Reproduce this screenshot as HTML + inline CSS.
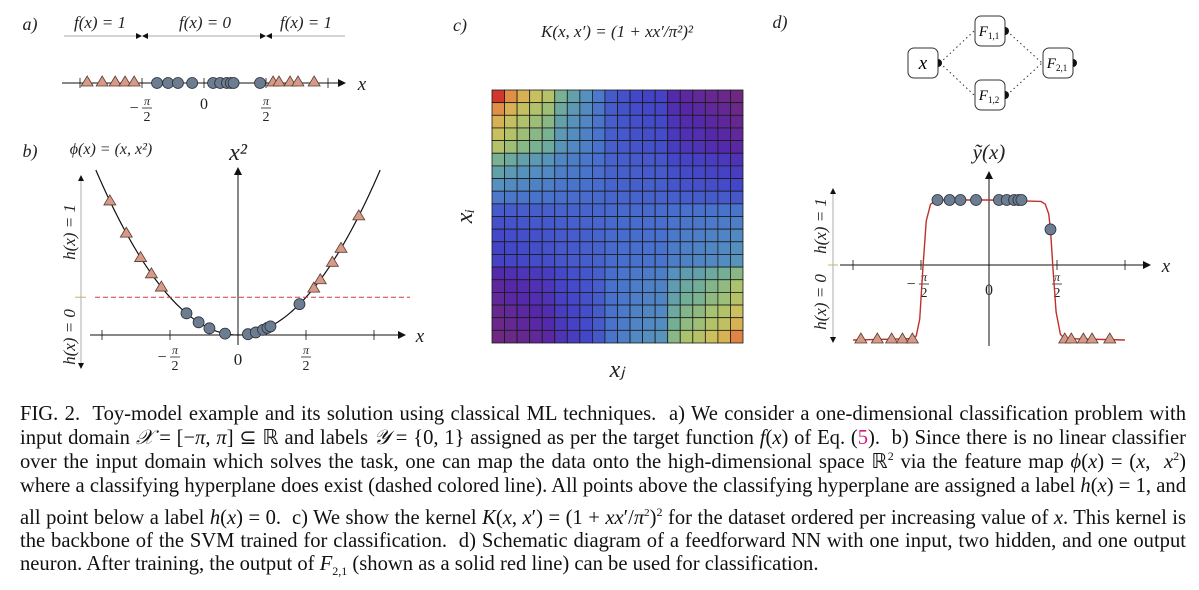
<!DOCTYPE html>
<html><head><meta charset="utf-8">
<style>
html,body{margin:0;padding:0;background:#fff;}
body{width:1199px;height:590px;position:relative;overflow:hidden;font-family:"Liberation Serif",serif;}
svg{position:absolute;left:0;top:0;}
.m{font-family:"Liberation Serif",serif;font-style:italic;}
.cap{position:absolute;left:20px;width:1166px;font-size:20.6px;line-height:24px;color:#111;white-space:nowrap;text-align:justify;text-align-last:justify;}
.cap.last{text-align-last:left;}
.cap i{font-style:italic;}
.pink{color:#d0207a;}
</style></head><body>
<svg id="fig" width="1199" height="390" viewBox="0 0 1199 390">
<defs>
<marker id="arr" markerWidth="8" markerHeight="8" refX="7" refY="4" orient="auto" markerUnits="userSpaceOnUse"><path d="M0,0 L8,4 L0,8 Z" fill="#111"/></marker>
<marker id="arrs" markerWidth="6" markerHeight="6" refX="5" refY="3" orient="auto" markerUnits="userSpaceOnUse"><path d="M0,0 L6,3 L0,6 Z" fill="#111"/></marker>
<marker id="arrsb" markerWidth="6" markerHeight="6" refX="1" refY="3" orient="auto" markerUnits="userSpaceOnUse"><path d="M6,0 L0,3 L6,6 Z" fill="#111"/></marker>
</defs>
<g id="panelA"></g>
<g id="panelB"></g>
<g id="panelC"></g>
<g id="panelD"></g>
</svg>

<div class="cap" style="top:402px">FIG. 2.&nbsp; Toy-model example and its solution using classical ML techniques.&nbsp; a) We consider a one-dimensional classification problem with</div>
<div class="cap" style="top:426px">input domain <i>𝒳</i> = [−<i>π</i>, <i>π</i>] ⊆ ℝ and labels <i>𝒴</i> = {0, 1} assigned as per the target function <i>f</i>(<i>x</i>) of Eq. (<span class="pink">5</span>).&nbsp; b) Since there is no linear classifier</div>
<div class="cap" style="top:450px">over the input domain which solves the task, one can map the data onto the high-dimensional space ℝ<sup style="font-size:12px;line-height:0">2</sup> via the feature map <i>ϕ</i>(<i>x</i>) = (<i>x</i>,&nbsp; <i>x</i><sup style="font-size:12px;line-height:0">2</sup>)</div>
<div class="cap" style="top:474px">where a classifying hyperplane does exist (dashed colored line). All points above the classifying hyperplane are assigned a label <i>h</i>(<i>x</i>) = 1, and</div>
<div class="cap" style="top:506px">all point below a label <i>h</i>(<i>x</i>) = 0.&nbsp; c) We show the kernel <i>K</i>(<i>x</i>, <i>x</i>′) = (1 + <i>xx</i>′/<i>π</i><sup style="font-size:11px;line-height:0">2</sup>)<sup style="font-size:12px;line-height:0">2</sup> for the dataset ordered per increasing value of <i>x</i>. This kernel is</div>
<div class="cap" style="top:529px">the backbone of the SVM trained for classification.&nbsp; d) Schematic diagram of a feedforward NN with one input, two hidden, and one output</div>
<div class="cap last" style="top:552px">neuron. After training, the output of <i>F</i><sub style="font-size:12px;line-height:0">2,1</sub> (shown as a solid red line) can be used for classification.</div>

<script>
// ---- data ----
const triLeft = [-2.96, -2.58, -2.25, -2.0, -1.77];
const circles = [-1.19, -0.91, -0.66, -0.30, 0.23, 0.41, 0.58, 0.68, 0.75, 1.42];
const triRight = [1.75, 1.90, 2.18, 2.38, 2.79];
const dCircleY = [1, 1, 1, 1, 1, 1, 1, 1, 1, 0.79];
const curveX = [-3.14, -1.75, -1.68, -1.6, -1.53, -1.45, -1.35, -1.2, 0, 1.2, 1.3, 1.38, 1.42, 1.48, 1.55, 1.65, 1.75, 3.14];
const curveY = [0.0, 0.01, 0.03, 0.15, 0.5, 0.85, 0.97, 1.0, 1.0, 0.99, 0.97, 0.9, 0.79, 0.5, 0.2, 0.04, 0.01, 0.0];
const thresholdX2 = 2.47;
const tickVals = [-Math.PI, -Math.PI/2, Math.PI/2, Math.PI];

const NS = 'http://www.w3.org/2000/svg';
const HP = Math.PI/2;
function el(parent, tag, attrs, text){
  const e = document.createElementNS(NS, tag);
  for (const k in attrs) e.setAttribute(k, attrs[k]);
  if (text !== undefined) e.textContent = text;
  parent.appendChild(e); return e;
}
const TRI_FILL = '#d69b88', CIR_FILL = '#6c7d92';
function tri(g, x, y, name){
  const e = el(g, 'path', {d:`M${x},${y-6} L${x+6},${y+4} L${x-6},${y+4} Z`, fill:TRI_FILL, stroke:'#5a3a30', 'stroke-width':0.8});
  
  
}
function circ(g, x, y, name){
  const e = el(g, 'circle', {cx:x, cy:y, r:5.5, fill:CIR_FILL, stroke:'#2a2f38', 'stroke-width':0.8});
  
  
}
function txt(g, x, y, s, size, name, extra){
  const a = {x:x, y:y, 'font-size':size, 'text-anchor':'middle', class:'m', fill:'#222'};
  if (extra) for (const k in extra) a[k] = extra[k];
  const e = el(g, 'text', a, s);
  
  
  return e;
}
function frac(g, cx, ytop, neg, name){
  const grp = el(g, 'g', {});
  
  
  el(grp, 'text', {x:cx, y:ytop+9, 'font-size':12, 'text-anchor':'middle', class:'m', fill:'#222'}, 'π');
  el(grp, 'line', {x1:cx-5, y1:ytop+12, x2:cx+5, y2:ytop+12, stroke:'#222', 'stroke-width':0.8});
  el(grp, 'text', {x:cx, y:ytop+25, 'font-size':14, 'text-anchor':'middle', fill:'#222', 'font-family':'Liberation Serif'}, '2');
  if (neg) el(grp, 'text', {x:cx-13, y:ytop+17, 'font-size':16, 'text-anchor':'middle', fill:'#222', 'font-family':'Liberation Serif'}, '−');
}
function line(g, x1, y1, x2, y2, attrs, name){
  const a = {x1:x1, y1:y1, x2:x2, y2:y2, stroke:'#111', 'stroke-width':1};
  if (attrs) for (const k in attrs) a[k] = attrs[k];
  const e = el(g, 'line', a);
  
  
  return e;
}

// ---- Panel A ----
(function(){
  const g = document.getElementById('panelA');
  const xa = v => 204 + v*62/HP, ya = 83;
  txt(g, 30, 30, 'a)', 18, 'panel-label-a');
  txt(g, 100, 28, 'f(x) = 1', 17, 'region-label-left');
  txt(g, 205, 28, 'f(x) = 0', 17, 'region-label-middle');
  txt(g, 306, 28, 'f(x) = 1', 17, 'region-label-right');
  line(g, 64, 36, xa(-HP)-1, 36, {'stroke-width':0.6, stroke:'#555', 'marker-end':'url(#arrs)'}, 'region-arrow-left');
  line(g, xa(-HP)+1, 36, xa(HP)-1, 36, {'stroke-width':0.6, stroke:'#555', 'marker-start':'url(#arrsb)', 'marker-end':'url(#arrs)'}, 'region-arrow-middle');
  line(g, xa(HP)+1, 36, 345, 36, {'stroke-width':0.6, stroke:'#555', 'marker-start':'url(#arrsb)'}, 'region-arrow-right');
  line(g, 62, ya, 345, ya, {'marker-end':'url(#arr)'}, 'x-axis-a');
  txt(g, 362, 90, 'x', 19, 'x-axis-label-a');
  tickVals.concat([0]).forEach(v => line(g, xa(v), ya-5, xa(v), ya+5, {'stroke-width':0.8}, 'tick-a'));
  frac(g, xa(-HP)+5, 96, true, 'tick-label-a-neg-half-pi');
  txt(g, xa(0), 109, '0', 16, 'tick-label-a-zero', {class:'', 'font-family':'Liberation Serif'});
  frac(g, xa(HP), 96, false, 'tick-label-a-half-pi');
  triLeft.concat(triRight).forEach(v => tri(g, xa(v), ya-1, 'point-a-class1'));
  circles.forEach(v => circ(g, xa(v), ya, 'point-a-class0'));
})();

// ---- Panel B ----
(function(){
  const g = document.getElementById('panelB');
  const xb = v => 238 + v*68/HP, yb = s => 335 - s*15.3;
  txt(g, 30, 157, 'b)', 18, 'panel-label-b');
  txt(g, 111, 154, 'ϕ(x) = (x,  x²)', 16, 'feature-map-label');
  txt(g, 238, 160, 'x²', 24, 'y-axis-title-b');
  line(g, 90, 335, 405, 335, {'marker-end':'url(#arr)'}, 'x-axis-b');
  txt(g, 420, 342, 'x', 19, 'x-axis-label-b');
  line(g, 238, 345, 238, 168, {'marker-end':'url(#arr)'}, 'y-axis-b');
  tickVals.forEach(v => line(g, xb(v), 330, xb(v), 340, {'stroke-width':0.8}, 'tick-b'));
  frac(g, xb(-HP)+5, 345, true, 'tick-label-b-neg-half-pi');
  txt(g, 238, 365, '0', 17, 'tick-label-b-zero', {class:'', 'font-family':'Liberation Serif'});
  frac(g, xb(HP), 345, false, 'tick-label-b-half-pi');
  line(g, 81, 176, 81, 368, {stroke:'#888', 'stroke-width':0.7, 'marker-start':'url(#arrsb)', 'marker-end':'url(#arrs)'}, 'h-axis-b');
  line(g, 75, yb(thresholdX2), 86, yb(thresholdX2), {stroke:'#c8b070', 'stroke-width':1}, 'h-axis-threshold-b');
  txt(g, 0, 0, 'h(x) = 1', 17, 'h1-label-b', {transform:'translate(75,232) rotate(-90)'});
  txt(g, 0, 0, 'h(x) = 0', 17, 'h0-label-b', {transform:'translate(75,337) rotate(-90)'});
  let d = '';
  const vmax = Math.sqrt((335-170)/15.3);
  for (let i=0;i<=120;i++){ const v = -vmax + 2*vmax*i/120; d += (i?'L':'M') + xb(v).toFixed(2)+','+yb(v*v).toFixed(2); }
  const p = el(g, 'path', {d:d, fill:'none', stroke:'#111', 'stroke-width':1.2});
  
  
  line(g, 95, yb(thresholdX2), 410, yb(thresholdX2), {stroke:'#d03a3a', 'stroke-width':1, 'stroke-dasharray':'5,3'}, 'classifying-hyperplane');
  triLeft.concat(triRight).forEach(v => tri(g, xb(v), yb(v*v), 'point-b-class1'));
  circles.forEach(v => circ(g, xb(v), yb(v*v), 'point-b-class0'));
})();

// ---- Panel C ----
(function(){
  const g = document.getElementById('panelC');
  txt(g, 460, 31, 'c)', 18, 'panel-label-c');
  txt(g, 617, 37, 'K(x, x′) = (1 + xx′/π²)²', 17, 'kernel-formula');
  txt(g, 0, 0, 'xᵢ', 24, 'y-axis-title-c', {transform:'translate(472,216) rotate(-90)'});
  txt(g, 617, 377, 'xⱼ', 24, 'x-axis-title-c');
  const xs = triLeft.concat(circles, triRight).slice().sort((a,b)=>a-b);
  const n = xs.length;
  const K = xs.map(a => xs.map(b => Math.pow(1 + a*b/(Math.PI*Math.PI), 2)));
  let mn = Infinity, mx = -Infinity;
  K.forEach(r => r.forEach(v => { mn = Math.min(mn, v); mx = Math.max(mx, v); }));
  const stops = [[0,[110,40,130]],[0.08,[85,40,170]],[0.18,[68,70,200]],[0.3,[72,112,205]],[0.4,[85,145,190]],[0.5,[115,175,150]],[0.62,[170,195,110]],[0.75,[210,190,90]],[0.88,[225,145,70]],[1,[210,55,45]]];
  function cmap(t){
    for (let i=1;i<stops.length;i++){
      if (t <= stops[i][0]){
        const a = stops[i-1], b = stops[i], u = (t-a[0])/(b[0]-a[0]);
        return 'rgb(' + a[1].map((c,k)=>Math.round(c+(b[1][k]-c)*u)).join(',') + ')';
      }
    }
    return 'rgb(210,55,45)';
  }
  const x0 = 492, y0 = 90, W = 251, H = 253, cw = W/n, ch = H/n;
  for (let i=0;i<n;i++) for (let j=0;j<n;j++){
    const r = el(g, 'rect', {x:x0+j*cw, y:y0+i*ch, width:cw, height:ch, fill:cmap((K[i][j]-mn)/(mx-mn)), stroke:'#1a1a1a', 'stroke-width':0.8});
    
    
  }
})();

// ---- Panel D ----
(function(){
  const g = document.getElementById('panelD');
  txt(g, 780, 28, 'd)', 18, 'panel-label-d');
  const boxes = [['x',923,63,'input-neuron-x'],['F1,1',990,31,'hidden-neuron-f11'],['F1,2',990,95,'hidden-neuron-f12'],['F2,1',1058,63,'output-neuron-f21']];
  const edges = [[0,1],[0,2],[1,3],[2,3]];
  edges.forEach(([a,b]) => {
    const A = boxes[a], B = boxes[b];
    line(g, A[1]+17, A[2], B[1]-16, B[2], {stroke:'#333', 'stroke-width':1, 'stroke-dasharray':'1.5,3'}, 'network-edge');
  });
  boxes.forEach(b => {
    const grp = el(g, 'g', {});
    
    
    el(grp, 'rect', {x:b[1]-15, y:b[2]-15, width:30, height:30, rx:6, fill:'#fff', stroke:'#333', 'stroke-width':1});
    el(grp, 'path', {d:`M${b[1]+15},${b[2]-4} a4,4 0 0 1 0,8 Z`, fill:'#111'});
    if (b[0] === 'x') el(grp, 'text', {x:b[1], y:b[2]+6, 'font-size':19, 'text-anchor':'middle', class:'m'}, 'x');
    else {
      const t = el(grp, 'text', {x:b[1]-1, y:b[2]+5, 'font-size':15, 'text-anchor':'middle', class:'m'}, 'F');
      el(t, 'tspan', {'font-size':9, dy:3, 'font-style':'normal'}, b[0].slice(1));
    }
  });
  const xd = v => 989 + v*68/HP, yd = s => 340 - s*140;
  txt(g, 989, 159, 'ỹ(x)', 21, 'y-axis-title-d');
  line(g, 840, 265, 1150, 265, {'marker-end':'url(#arr)'}, 'x-axis-d');
  txt(g, 1166, 272, 'x', 19, 'x-axis-label-d');
  line(g, 989, 346, 989, 172, {'marker-end':'url(#arr)'}, 'y-axis-d');
  tickVals.forEach(v => line(g, xd(v), 260, xd(v), 270, {'stroke-width':0.8}, 'tick-d'));
  frac(g, xd(-HP)+3, 272, true, 'tick-label-d-neg-half-pi');
  txt(g, 989, 295, '0', 16, 'tick-label-d-zero', {class:'', 'font-family':'Liberation Serif'});
  frac(g, xd(HP), 272, false, 'tick-label-d-half-pi');
  line(g, 833, 189, 833, 342, {stroke:'#888', 'stroke-width':0.7, 'marker-start':'url(#arrsb)', 'marker-end':'url(#arrs)'}, 'h-axis-d');
  line(g, 828, 265, 838, 265, {stroke:'#c8b070', 'stroke-width':1}, 'h-axis-threshold-d');
  txt(g, 0, 0, 'h(x) = 1', 17, 'h1-label-d', {transform:'translate(826,226) rotate(-90)'});
  txt(g, 0, 0, 'h(x) = 0', 17, 'h0-label-d', {transform:'translate(826,302) rotate(-90)'});
  let d = '';
  curveX.forEach((v,i) => { d += (i?'L':'M') + xd(v).toFixed(2) + ',' + yd(curveY[i]).toFixed(2); });
  const p = el(g, 'path', {d:d, fill:'none', stroke:'#c0302a', 'stroke-width':1.4, 'stroke-linejoin':'round'});
  
  
  triLeft.concat(triRight).forEach(v => tri(g, xd(v), yd(0)-1, 'point-d-class1'));
  circles.forEach((v,i) => circ(g, xd(v), yd(dCircleY[i]), 'point-d-class0'));
})();
</script>
</body></html>
